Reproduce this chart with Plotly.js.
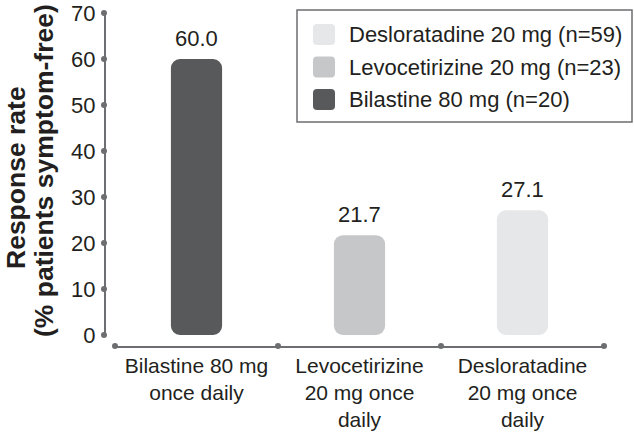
<!DOCTYPE html>
<html><head><meta charset="utf-8">
<script src="https://cdn.plot.ly/plotly-3.0.1.min.js"></script>
<style>html,body{margin:0;padding:0;background:#fff}</style>
</head><body><div id="chart" style="width:634px;height:432px"></div>
<script>
// ---- data ----
const categories = ["Bilastine 80 mg<br>once daily", "Levocetirizine<br>20 mg once<br>daily", "Desloratadine<br>20 mg once<br>daily"];
const values = [60.0, 21.7, 27.1];
const barColors = ["#58595b", "#c6c7c9", "#e6e7e8"];
const legendNames = ["Desloratadine 20 mg (n=59)", "Levocetirizine 20 mg (n=23)", "Bilastine 80 mg (n=20)"];
const legendColors = ["#e6e7e8", "#c6c7c9", "#58595b"];
const yTicks = [0, 10, 20, 30, 40, 50, 60, 70];
const xPositions = [0, 1, 2];
const xBoundaries = [-0.5, 0.5, 1.5, 2.5];
const titleLines = ["Response rate", "(% patients symptom-free)"];

// ---- layout geometry ----
const W = 634, H = 432, L = 104, R = 30, T = 13, B = 86;
const plotW = W - L - R, plotH = H - T - B, plotBottom = H - B;
const px2x = p => (p - L) / plotW;
const py2y = p => (plotBottom - p) / plotH;
const axisGray = "#6d6e71";
const textColor = "#231f20";
const FONT = "Liberation Sans, Arial, sans-serif";

function rrect(x0, y0, x1, y1, r) {
  const P = (x, y) => px2x(x).toFixed(5) + "," + py2y(y).toFixed(5);
  return "M" + P(x0 + r, y0) + " L" + P(x1 - r, y0) + " Q" + P(x1, y0) + " " + P(x1, y0 + r) +
    " L" + P(x1, y1 - r) + " Q" + P(x1, y1) + " " + P(x1 - r, y1) +
    " L" + P(x0 + r, y1) + " Q" + P(x0, y1) + " " + P(x0, y1 - r) +
    " L" + P(x0, y0 + r) + " Q" + P(x0, y0) + " " + P(x0 + r, y0) + " Z";
}

const barWidth = 0.314, radius = 9;
const traces = [
  { type: "bar", x: xPositions, base: values.map(() => 0), y: values,
    width: barWidth, marker: { color: barColors, cornerradius: radius, line: { width: 0 } },
    hoverinfo: "skip", showlegend: false, xaxis: "x", yaxis: "y" },
  { type: "scatter", mode: "markers", x: yTicks.map(() => 0), y: yTicks,
    marker: { size: 6, color: axisGray }, cliponaxis: false, hoverinfo: "skip", showlegend: false,
    xaxis: "x2", yaxis: "y" },
  { type: "scatter", mode: "markers", x: xBoundaries, y: xBoundaries.map(() => 0),
    marker: { size: 6, color: axisGray }, cliponaxis: false, hoverinfo: "skip", showlegend: false,
    xaxis: "x", yaxis: "y2" }
];

const annotations = [];
values.forEach((v, i) => annotations.push({
  xref: "x", yref: "y", x: xPositions[i], y: v, text: v.toFixed(1), showarrow: false,
  yanchor: "bottom", yshift: 6, font: { size: 22, color: textColor, family: FONT }
}));
const rowCenters = [34.5, 67, 99.5];
legendNames.forEach((n, i) => annotations.push({
  xref: "paper", yref: "paper", x: px2x(347), y: py2y(rowCenters[i]), text: n, showarrow: false,
  xanchor: "left", yanchor: "middle", font: { size: 22, color: textColor, family: FONT }
}));
const titlePos = [[16, 178], [44, 171]];
titleLines.forEach((t, i) => annotations.push({
  xref: "paper", yref: "paper", x: px2x(titlePos[i][0]), y: py2y(titlePos[i][1]), text: "<b>" + t + "</b>",
  textangle: -90, showarrow: false, xanchor: "center", yanchor: "middle",
  font: { size: 26.5, color: textColor, family: FONT }
}));

const shapes = [
  { type: "rect", xref: "paper", yref: "paper", x0: px2x(297), x1: px2x(632), y0: py2y(122), y1: py2y(10),
    line: { color: axisGray, width: 1.5 }, fillcolor: "rgba(0,0,0,0)" }
];
legendColors.forEach((c, i) => shapes.push({
  type: "path", xref: "paper", yref: "paper",
  path: rrect(313, rowCenters[i] - 10.5, 335, rowCenters[i] + 10.5, 4),
  fillcolor: c, line: { width: 0 }
}));

const layout = {
  width: W, height: H, margin: { l: L, r: R, t: T, b: B },
  paper_bgcolor: "#fff", plot_bgcolor: "rgba(0,0,0,0)",
  barmode: "overlay", showlegend: false,
  font: { family: FONT, color: textColor, size: 22 },
  xaxis: { domain: [px2x(115), 1], range: [-0.5, 2.5], anchor: "free", position: 0,
    showline: true, linecolor: axisGray, linewidth: 1.5, tickvals: xPositions, ticktext: categories,
    ticks: "", showgrid: false, zeroline: false, tickfont: { size: 21, color: textColor } },
  yaxis: { domain: [py2y(335), 1], range: [0, 70], anchor: "free", position: 0,
    showline: true, linecolor: axisGray, linewidth: 1.5, tickvals: yTicks, ticks: "",
    showgrid: false, zeroline: false, tickfont: { size: 22, color: textColor }, ticklabelstandoff: 4 },
  xaxis2: { domain: [0, 1], range: [0, 1], anchor: "y", visible: false, fixedrange: true },
  yaxis2: { domain: [0, 1], range: [0, 1], anchor: "x", visible: false, fixedrange: true },
  annotations: annotations, shapes: shapes
};

Plotly.newPlot("chart", traces, layout, { staticPlot: true, displayModeBar: false });
</script></body></html>
